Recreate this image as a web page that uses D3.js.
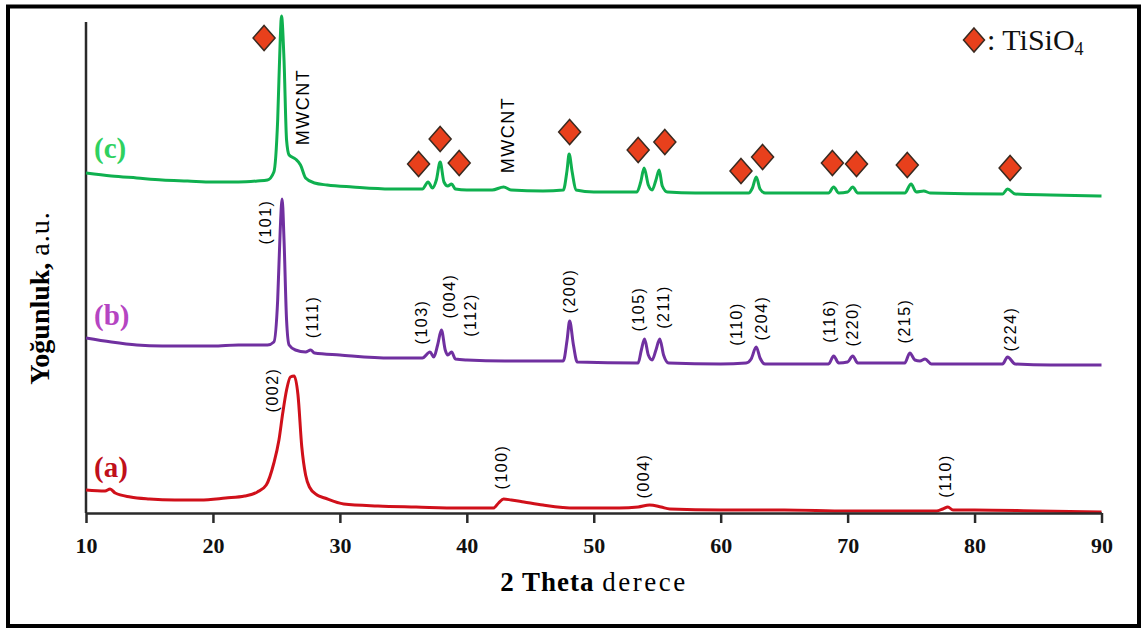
<!DOCTYPE html>
<head>
<meta charset="utf-8">
<script src="https://d3js.org/d3.v7.min.js"></script>
</head>
<body style="margin:0;background:#fff">
<style>
  .tick text { font-family: "Liberation Serif", "Times New Roman", serif; font-weight: bold; font-size: 22px; fill: #111; }
  .peak { font-family: "Liberation Sans", Arial, sans-serif; font-size: 16px; letter-spacing: 1.5px; fill: #000; }
</style>
<div id="viz"></div>
<script>
// 2-theta (deg) and intensity (a.u.)
var thetaC = [10,12,14,16,18,20,22,23.5,24.3,24.8,25.1,25.3,25.4,25.6,25.8,26.0,26.5,26.9,27.3,28,29,31,34,36.5,36.95,37.3,37.6,37.9,38.2,38.5,38.8,39.1,40,42,42.9,43.5,46,47.6,47.9,48.06,48.3,48.6,50,53.4,53.7,53.97,54.3,54.6,54.9,55.15,55.4,55.8,58,62.2,62.5,62.8,63.1,63.5,68.5,68.9,69.3,70.0,70.4,70.8,74.5,75.0,75.4,76.0,76.5,82.2,82.6,83.2,86,90];
var intC   = [340,337,335,333,332,331,331,332,333,341,393,473,497,453,373,358,354,348,335,330,328,326,324,324,331,325,333,351,331,327,329,324,323,323,326,323,322,323,343,359,341,323,321,321,331,345,328,323,333,343,327,321,320,320,325,336,324,320,320,326,320,321,326,320,320,329,321,322,320,319,324,319,318,317];

var thetaB = [10,12,14,16,18,20,22,24.3,24.8,25.1,25.3,25.45,25.6,25.8,26.0,26.5,27.3,27.7,28.0,30,34,36.5,37.1,37.4,37.7,38.0,38.3,38.5,38.8,39.1,40,43,47.6,47.9,48.1,48.4,48.7,53.5,53.75,54.0,54.3,54.6,54.9,55.2,55.5,55.9,60,62.0,62.4,62.8,63.1,63.5,68.5,68.9,69.3,70.0,70.4,70.8,74.5,74.9,75.3,75.7,76.1,76.6,82.2,82.6,83.2,86,90];
var intB   = [175,171,168,167,167,167,168,168,171,213,283,314,273,193,168,163,161,163,160,158,155,155,161,156,168,183,163,158,161,154,153,152,152,173,192,168,151,150,163,174,158,153,163,174,158,150,149,150,154,166,155,149,149,157,150,151,157,150,150,160,153,152,154,149,149,156,149,148,148];

var thetaA = [10,11.5,11.9,12.3,13.5,15,17,19,21,22.5,23.5,24.2,24.8,25.2,25.5,25.8,26.1,26.4,26.7,27.0,27.3,27.6,28.2,28.8,30.3,33,36,39.4,42.1,42.5,42.9,43.5,44.5,46,48.5,52,53.5,54.4,55.3,56,60,65,70,77,77.5,77.9,78.3,80,85,90];
var intA   = [23,22,24,20,16,14,13,13,15,17,21,28,50,73,100,123,136,137,118,66,38,26,18,15,9,7,6,5,5,10,14,13,11,8,5,5,6,8,6,4,3,3,2,2,4,6,3,3,2,1];

// TiSiO4 markers
var tisiTheta = [24.03,36.2,37.9,39.4,48.1,53.5,55.6,61.6,63.3,68.8,70.7,74.7,82.8];
var tisiInt   = [475,349,374,350,381,363,371,342,356,350,349,348,345];

// hkl / phase labels
var hklText  = ["(101)","(111)","(103)","(004)","(112)","(200)","(105)","(211)","(110)","(204)","(116)","(220)","(215)","(224)","(002)","(100)","(004)","(110)","MWCNT","MWCNT"];
var hklTheta = [24.1,27.8,36.4,38.6,40.3,48.1,53.5,55.5,61.2,63.2,68.55,70.4,74.5,82.8,24.7,42.7,53.9,77.7,27.1,43.2];
var hklInt   = [291,196,191,217,198,222,204,206,189,195,192,189,192,184,123,46,37,37,406,378];

var xTicks = [10,20,30,40,50,60,70,80,90];

var W = 1141, H = 628;
var svg = d3.select("#viz").append("svg").attr("width", W).attr("height", H);

// outer frame
svg.append("rect")
  .attr("x", 8).attr("y", 6.5).attr("width", 1131).attr("height", 619.5)
  .attr("fill", "none").attr("stroke", "#000").attr("stroke-width", 4);

var x = d3.scaleLinear().domain([10, 90]).range([86, 1101.5]);
var y = d3.scaleLinear().domain([0, 500]).range([513, 13]);

// y axis line (no ticks)
svg.append("line")
  .attr("x1", x(10)).attr("x2", x(10))
  .attr("y1", y(491)).attr("y2", y(0))
  .attr("stroke", "#2a2a2a").attr("stroke-width", 2.5);

function series(th, iv, col) {
  var pts = th.map(function(t, i) { return [t, iv[i]]; });
  svg.append("path")
    .datum(pts)
    .attr("fill", "none")
    .attr("stroke", col)
    .attr("stroke-width", 3)
    .attr("stroke-linejoin", "round")
    .attr("d", d3.line()
      .x(function(d) { return x(d[0]); })
      .y(function(d) { return y(d[1]); })
      .curve(d3.curveMonotoneX));
}
series(thetaA, intA, "#d0101a");
series(thetaB, intB, "#7030a0");
series(thetaC, intC, "#0fb04f");

// x axis
var xa = svg.append("g")
  .attr("transform", "translate(0," + y(0) + ")")
  .call(d3.axisBottom(x).tickValues(xTicks).tickSize(10).tickSizeOuter(0).tickPadding(14));
xa.select(".domain").attr("stroke", "#2a2a2a").attr("stroke-width", 2.5);
xa.selectAll(".tick line").attr("stroke", "#2a2a2a").attr("stroke-width", 2.5);

// axis titles
var xt = svg.append("text")
  .attr("x", 594).attr("y", 591)
  .attr("text-anchor", "middle")
  .style("font-family", "'Liberation Serif', 'Times New Roman', serif")
  .style("font-size", "27px");
xt.append("tspan").style("font-weight", "bold").style("letter-spacing", "1px").text("2 Theta ");
xt.append("tspan").style("letter-spacing", "2.5px").text("derece");

var yt = svg.append("text")
  .attr("transform", "translate(49,298) rotate(-90)")
  .attr("text-anchor", "middle")
  .style("font-family", "'Liberation Serif', 'Times New Roman', serif")
  .style("font-size", "28px");
yt.append("tspan").style("font-weight", "bold").text("Yoğunluk, ");
yt.append("tspan").style("letter-spacing", "1px").text("a.u.");

// series labels
var serLab = ["(c)", "(b)", "(a)"];
var serCol = ["#2ed15f", "#b545c2", "#c0101a"];
var serInt = [355, 188, 36];
svg.selectAll(".slab").data(serLab).enter().append("text")
  .attr("class", "slab")
  .attr("x", 94)
  .attr("y", function(d, i) { return y(serInt[i]); })
  .style("font-family", "'Liberation Serif', 'Times New Roman', serif")
  .style("font-weight", "bold")
  .style("font-size", "29px")
  .style("fill", function(d, i) { return serCol[i]; })
  .text(function(d) { return d; });

// peak labels, rotated
svg.selectAll(".peak").data(hklText).enter().append("text")
  .attr("class", "peak")
  .attr("text-anchor", "middle")
  .attr("dy", "0.35em")
  .attr("transform", function(d, i) {
    return "translate(" + x(hklTheta[i]) + "," + y(hklInt[i]) + ") rotate(-90)";
  })
  .style("font-size", function(d) { return d == "MWCNT" ? "18px" : "16px"; })
  .text(function(d) { return d; });

// diamonds
function diamond(cx, cy, w, h) {
  return "M" + cx + "," + (cy - h) + "L" + (cx + w) + "," + cy + "L" + cx + "," + (cy + h) + "L" + (cx - w) + "," + cy + "Z";
}
svg.selectAll(".dia").data(tisiTheta).enter().append("path")
  .attr("class", "dia")
  .attr("d", function(d, i) { return diamond(x(d), y(tisiInt[i]), 11, 12.5); })
  .attr("fill", "#e8401c").attr("stroke", "#3a2a20").attr("stroke-width", 1.5);

// legend
svg.append("path")
  .attr("d", diamond(974, 40, 10.5, 12))
  .attr("fill", "#e8401c").attr("stroke", "#3a2a20").attr("stroke-width", 1.5);
var lg = svg.append("text")
  .attr("x", 987).attr("y", 50)
  .style("font-family", "'Liberation Serif', 'Times New Roman', serif")
  .style("font-size", "30px").style("fill", "#111");
lg.append("tspan").text(": TiSiO");
lg.append("tspan").attr("dy", 5).style("font-size", "18px").text("4");
</script>
</body>
